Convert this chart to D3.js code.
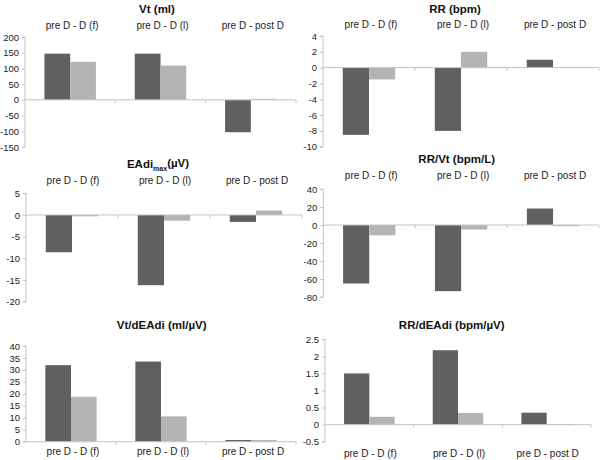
<!DOCTYPE html>
<html><head><meta charset="utf-8">
<script src="https://cdn.jsdelivr.net/npm/d3@7/dist/d3.min.js"></script>
<style>
html,body{margin:0;padding:0;background:#fff;}
text{font-family:"Liberation Sans",Arial,sans-serif;}
</style></head>
<body>
<svg id="c" width="600" height="460"></svg>
<script>
const categories = ["pre D - D (f)", "pre D - D (l)", "pre D - post D"];
const seriesNames = ["dark", "light"];

const vtDark = [147, 147, -103];
const vtLight = [121, 109, 3];
const vtTicks = [-150, -100, -50, 0, 50, 100, 150, 200];

const rrDark = [-8.5, -8, 1];
const rrLight = [-1.5, 2, 0];
const rrTicks = [-10, -8, -6, -4, -2, 0, 2, 4];

const eadiDark = [-8.6, -16.2, -1.6];
const eadiLight = [-0.3, -1.3, 1.0];
const eadiTicks = [-20, -15, -10, -5, 0, 5];

const rrvtDark = [-65, -73.5, 18.3];
const rrvtLight = [-11.5, -5, -1.3];
const rrvtTicks = [-80, -60, -40, -20, 0, 20, 40];

const vtdDark = [32, 33.5, 0.7];
const vtdLight = [18.8, 10.6, 0.7];
const vtdTicks = [0, 5, 10, 15, 20, 25, 30, 35, 40];

const rrdDark = [1.5, 2.18, 0.35];
const rrdLight = [0.23, 0.34, 0.01];
const rrdTicks = [-0.5, 0, 0.5, 1, 1.5, 2, 2.5];

const colors = {dark: "#606060", light: "#b4b4b4"};
const axisColor = "#c4c4c4";

const panels = [
  {title: ["Vt (ml)"], dark: vtDark, light: vtLight, ticks: vtTicks,
   x0: 25, x1: 296, yTop: 37, yBot: 147, tx: 157, ty: 9, catY: 25, catDx: 2},
  {title: ["RR (bpm)"], dark: rrDark, light: rrLight, ticks: rrTicks,
   x0: 323, x1: 599, yTop: 36, yBot: 146.7, tx: 455, ty: 9, catY: 24, catDx: 2},
  {title: ["EAdi", "max", "(\u00b5V)"], dark: eadiDark, light: eadiLight, ticks: eadiTicks,
   x0: 26, x1: 302, yTop: 193.3, yBot: 301.7, tx: 158, ty: 163.5, catY: 180, catDx: 1},
  {title: ["RR/Vt (bpm/L)"], dark: rrvtDark, light: rrvtLight, ticks: rrvtTicks,
   x0: 323.3, x1: 599, yTop: 189, yBot: 297, tx: 456.7, ty: 159, catY: 175, catDx: 2},
  {title: ["Vt/dEAdi (ml/\u00b5V)"], dark: vtdDark, light: vtdLight, ticks: vtdTicks,
   x0: 26, x1: 296, yTop: 346, yBot: 441.7, tx: 161.7, ty: 325, catY: 451.7, catDx: 2},
  {title: ["RR/dEAdi (bpm/\u00b5V)"], dark: rrdDark, light: rrdLight, ticks: rrdTicks,
   x0: 325, x1: 591, yTop: 339.3, yBot: 441.7, tx: 451.7, ty: 325, catY: 453.3, catDx: 1}
];

const svg = d3.select("#c");

panels.forEach(p => {
  const g = svg.append("g");
  const ext = d3.extent(p.ticks);
  const y = d3.scaleLinear().domain(ext).range([p.yBot, p.yTop]);
  const x = d3.scaleBand().domain(categories).range([p.x0, p.x1]).padding(0);
  const step = x.step();
  const inner = d3.scaleBand().domain(seriesNames)
    .range([step * 0.215, step * 0.785]).padding(0);

  // title
  const t = g.append("text").attr("x", p.tx).attr("y", p.ty).attr("dy", "0.35em")
    .attr("text-anchor", "middle").attr("font-size", 11.5).attr("font-weight", "bold")
    .attr("fill", "#111");
  t.append("tspan").text(p.title[0]);
  if (p.title.length > 1) {
    t.append("tspan").text(p.title[1]).attr("font-size", 7).attr("dy", "0.45em");
    t.append("tspan").text(p.title[2]).attr("dy", "-0.28em");
  }

  // category labels
  g.selectAll(".cat").data(categories).join("text")
    .attr("x", d => x(d) + step / 2 + p.catDx).attr("y", p.catY).attr("dy", "0.35em")
    .attr("text-anchor", "middle").attr("font-size", 10).attr("fill", "#222")
    .text(d => d);

  // y axis
  const yAxis = d3.axisLeft(y).tickValues(p.ticks).tickSize(3).tickPadding(3)
    .tickFormat(d => String(d));
  const ya = g.append("g").attr("transform", `translate(${p.x0},0)`).call(yAxis);
  ya.select(".domain").attr("stroke", axisColor).attr("d", `M-3,${p.yTop}H0V${p.yBot}H-3`);
  ya.selectAll(".tick line").attr("stroke", axisColor);
  ya.selectAll(".tick text").attr("font-size", 9.5).attr("fill", "#222")
    .attr("font-family", "'Liberation Sans',Arial,sans-serif");

  // bars
  categories.forEach((c, i) => {
    seriesNames.forEach(s => {
      const v = p[s][i];
      if (v === 0) return;
      const y0 = y(0), yv = y(v);
      g.append("rect")
        .attr("x", x(c) + inner(s))
        .attr("width", inner.bandwidth())
        .attr("y", Math.min(y0, yv))
        .attr("height", Math.max(Math.abs(yv - y0), 0.8))
        .attr("fill", colors[s]);
    });
  });

  // zero / category axis
  g.append("line").attr("x1", p.x0).attr("x2", p.x1)
    .attr("y1", y(0)).attr("y2", y(0)).attr("stroke", axisColor).attr("stroke-width", 1);
  categories.forEach((c, i) => {
    const bx = x(c) + step;
    g.append("line").attr("x1", bx).attr("x2", bx)
      .attr("y1", y(0)).attr("y2", y(0) + 3).attr("stroke", axisColor);
  });
});
</script>
</body></html>
